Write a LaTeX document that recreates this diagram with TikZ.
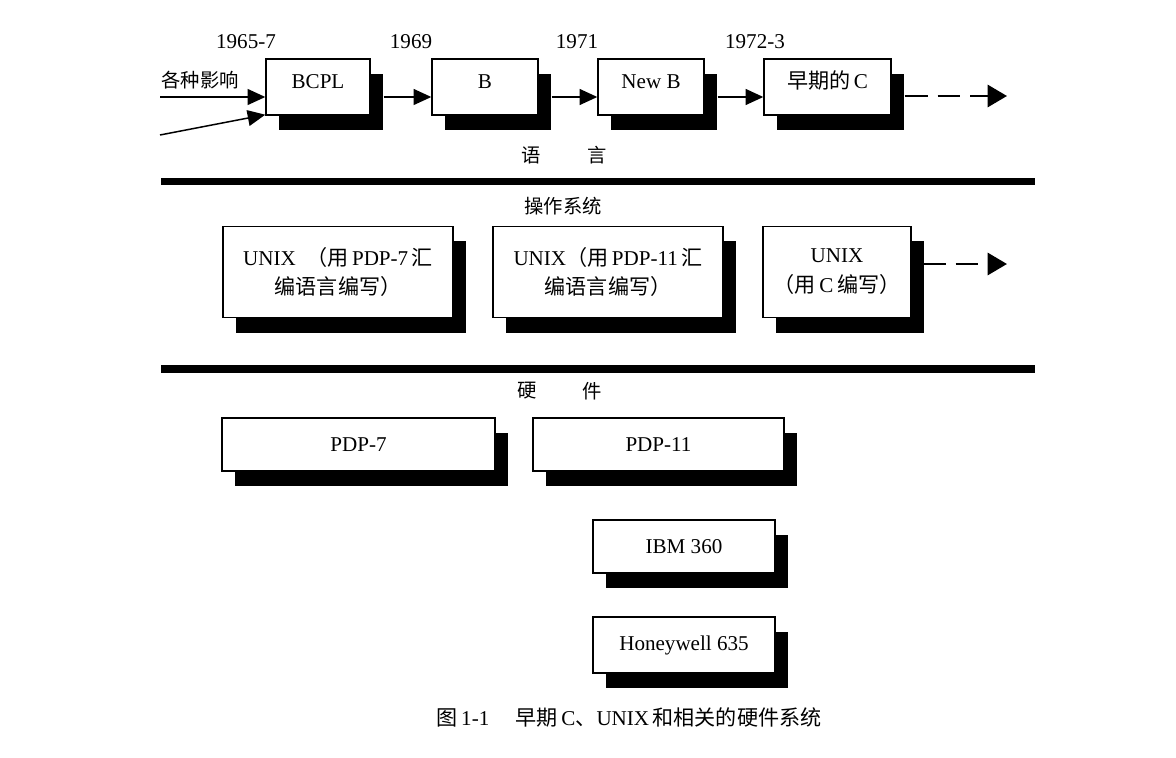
\documentclass[tikz,border=0pt]{standalone}
\usepackage{fontspec}
\setmainfont{Liberation Serif}
\newfontfamily\cjk{Noto Sans CJK SC}
\usetikzlibrary{shadows,arrows.meta,calc}
\newcommand\zh[1]{{\cjk #1}}
\begin{document}
\begin{tikzpicture}[x=0.02cm,y=-0.02cm,
  box/.style={draw,line width=0.8pt,fill=white,inner sep=2pt,align=center,
    drop shadow={shadow xshift=0.26cm,shadow yshift=-0.30cm,fill=black,opacity=1},
    font=\fontsize{12}{17}\selectfont},
  topbox/.style={box,text height=8pt,text depth=6pt,minimum height=56*0.02cm},
  lbl/.style={inner sep=0pt,font=\fontsize{12}{14}\selectfont},
  zlbl/.style={inner sep=0pt,font=\cjk\fontsize{11}{13}\selectfont},
  arr/.style={line width=0.85pt,-{Triangle[length=10pt,width=9pt]}},
  darr/.style={line width=1.7pt,dash pattern=on 13pt off 5.7pt,-{Triangle[length=11pt,width=12.5pt]}},
  rule/.style={line width=4pt}]
\fill[white] (0,0) rectangle (1176,757);
\useasboundingbox (0,0) rectangle (1176,757);

% language row
\node[topbox,minimum width=104*0.02cm] (bcpl) at (318,87) {BCPL};
\node[topbox,minimum width=106*0.02cm] (b) at (485,87) {B};
\node[topbox,minimum width=106*0.02cm] (newb) at (651,87) {New B};
\node[topbox,minimum width=127*0.02cm] (earlyc) at (827.5,87) {\zh{早期的}\,C};

\node[lbl] (y1) at (246,42) {1965-7};
\node[lbl] (y2) at (411,42) {1969};
\node[lbl] (y3) at (577,42) {1971};
\node[lbl] (y4) at (755,42) {1972-3};
\node[zlbl] (infl) at (200,80) {各种影响};

\coordinate (in1) at (160,97);
\coordinate (in2) at (160,135);
\coordinate (end1) at (1007,96);
\draw[arr] (in1) -- ($(bcpl.west)+(0,10)$);
\draw[arr] (in2) -- ($(bcpl.south west)+(0,-1)$);
\draw[arr] ($(bcpl.east)+(13,10)$) -- ($(b.west)+(0,10)$);
\draw[arr] ($(b.east)+(13,10)$) -- ($(newb.west)+(0,10)$);
\draw[arr] ($(newb.east)+(13,10)$) -- ($(earlyc.west)+(0,10)$);
\draw[darr] ($(earlyc.east)+(13,9)$) -- (end1);

\node[zlbl] (yu) at (531,155) {语};
\node[zlbl] (yan) at (597,155) {言};

\coordinate (r1a) at (161,181.5);
\coordinate (r1b) at (1035,181.5);
\draw[rule] (r1a) -- (r1b);

% OS row
\node[zlbl] (os) at (563,206) {操作系统};
\node[box,minimum width=230*0.02cm,minimum height=91*0.02cm] (u7) at (338,272)
  {UNIX\ \ \zh{（用}\,PDP-7\,\zh{汇}\\\zh{编语言编写）}};
\node[box,minimum width=230*0.02cm,minimum height=91*0.02cm] (u11) at (608,272)
  {UNIX\zh{（用}\,PDP-11\,\zh{汇}\\\zh{编语言编写）}};
\node[box,minimum width=148*0.02cm,minimum height=91*0.02cm] (uc) at (837,272)
  {UNIX\\\zh{（用}\,C\,\zh{编写）}};
\coordinate (end2) at (1007,264);
\draw[darr] ($(uc.east)+(11,-8)$) -- (end2);

\coordinate (r2a) at (161,369);
\coordinate (r2b) at (1035,369);
\draw[rule] (r2a) -- (r2b);

% hardware
\node[zlbl] (ying) at (527,391) {硬};
\node[zlbl] (jian) at (592,391) {件};
\node[box,minimum width=273*0.02cm,minimum height=53*0.02cm] (p7) at (358.5,444.5) {PDP-7};
\node[box,minimum width=251*0.02cm,minimum height=53*0.02cm] (p11) at (658.5,444.5) {PDP-11};
\node[box,minimum width=182*0.02cm,minimum height=53*0.02cm] (ibm) at (684,546.5) {IBM 360};
\node[box,minimum width=182*0.02cm,minimum height=56*0.02cm] (hw) at (684,645) {Honeywell 635};

\node[lbl] (cap) at (629,717) {\zh{图}\,1-1\quad\ \zh{早期}\,C\zh{、}UNIX\,\zh{和相关的硬件系统}};
\end{tikzpicture}
\end{document}
